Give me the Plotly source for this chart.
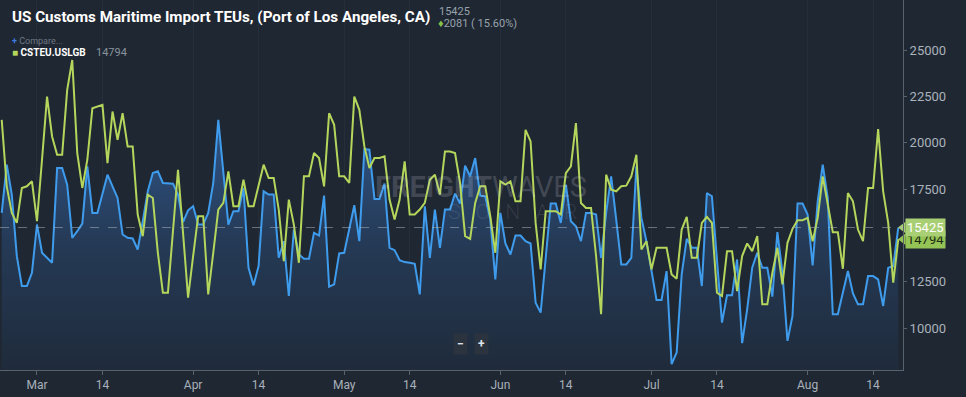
import pandas as pd
import plotly.graph_objects as go

# ---------------- data ----------------
start_date = "2019-02-22"
n_days = 179

# Port of Los Angeles (main series, blue area)
la_teus = [
    16214, 18814, 17201, 13883, 12270, 12270, 12987, 15587, 14063, 13794,
    13525, 18635, 18635, 17738, 14870, 15228, 15641, 18725, 16214, 16214,
    17201, 18276, 17649, 17021, 15049, 14870, 14834, 14242, 15766, 17380,
    18366, 18456, 17828, 17828, 17792, 17201, 15712, 16358, 16573, 15587,
    15587, 16214, 17828, 21235, 18545, 15587, 16304, 16304, 17559, 13256,
    12306, 13346, 17380, 17201, 17201, 13794, 14690, 11732, 15318, 13973,
    13740, 13740, 15139, 14995, 17147, 12234, 12359, 14027, 14063, 15408,
    16627, 14690, 19657, 19621, 16967, 16967, 17792, 14332, 14206, 13668,
    13561, 13525, 13471, 11822, 16573, 13794, 16394, 14332, 16394, 16394,
    17254, 16716, 18760, 18187, 19173, 17147, 17111, 15856, 12628, 16214,
    14565, 13973, 14995, 14995, 14690, 14565, 11373, 10835, 13883, 16716,
    16716, 15676, 17738, 15766, 15497, 14690, 16214, 16214, 16125, 13794,
    16214, 18187, 15856, 13435, 13435, 13794, 18725, 15945, 14690, 12987,
    11517, 11517, 13077, 8056, 8684, 12897, 14816, 14332, 14332, 12270,
    17290, 17111, 13615, 10297, 11768, 11768, 13704, 9186, 11015, 13256,
    14063, 13256, 13256, 11696, 15174, 12987, 9311, 10656, 16716, 16716,
    16125, 13381, 16842, 18814, 17021, 10746, 10746, 11911, 13077, 11875,
    11284, 11284, 12808, 12808, 12628, 11194, 13256, 13344, 15425,
]

# Port of Long Beach (compare series CSTEU.USLGB, green line)
lgb_teus = [
    21235, 17649, 16214, 15676, 17559, 17649, 17918, 15766, 19083, 22490,
    20338, 19352, 19352, 22848, 24462, 19442, 17559, 19083, 21862, 21952,
    22042, 18904, 21683, 20159, 21593, 19800, 19800, 16125, 14959, 17201,
    17021, 14063, 11911, 11911, 15228, 18545, 15139, 11642, 13883, 16035,
    16035, 11822, 14063, 16394, 16752, 18456, 16573, 16573, 18007, 16573,
    16573, 17649, 18814, 18097, 18097, 16394, 13615, 16932, 15587, 13525,
    18187, 18187, 19442, 19173, 17649, 21593, 20966, 18187, 18187, 17828,
    22490, 21773, 19800, 18635, 19173, 19173, 19262, 16932, 15856, 16932,
    18994, 16125, 16125, 16394, 16752, 18007, 18276, 17201, 19531, 19531,
    19442, 17828, 14959, 14816, 16752, 17649, 17649, 16035, 14063, 17918,
    17738, 17918, 16842, 16842, 20697, 20069, 15676, 13166, 16304, 16304,
    16304, 16125, 18366, 18725, 21055, 16752, 16483, 16483, 13883, 10746,
    18276, 17469, 17380, 17649, 17685, 18187, 19352, 14242, 14690, 13166,
    14332, 14332, 14332, 12897, 12664, 15318, 15999, 13794, 13794, 15676,
    15999, 15676, 11911, 11732, 14152, 14152, 12001, 13883, 14565, 14152,
    14959, 11284, 11284, 12987, 14332, 12359, 14601, 15354, 15820, 15820,
    15945, 14690, 15945, 18187, 16573, 15174, 15174, 13202, 17290, 16842,
    15318, 14690, 17559, 17559, 20733, 17380, 15676, 12449, 14794,
]

x_tick_dates = ["2019-03-01", "2019-03-14", "2019-04-01", "2019-04-14",
                "2019-05-01", "2019-05-14", "2019-06-01", "2019-06-14",
                "2019-07-01", "2019-07-14", "2019-08-01", "2019-08-14"]
x_tick_labels = ["Mar", "14", "Apr", "14", "May", "14",
                 "Jun", "14", "Jul", "14", "Aug", "14"]
y_tick_vals = [10000, 12500, 17500, 20000, 22500, 25000]

title_text = "US Customs Maritime Import TEUs, (Port of Los Angeles, CA)"
change_abs = 2081
change_pct = 15.60
compare_ticker = "CSTEU.USLGB"

dates = pd.date_range(start_date, periods=n_days, freq="D")

# ---------------- style ----------------
BG = "#1f2732"
BLUE = "#3f9ced"
GREEN = "#b4d65c"
AXIS = "#58626d"
TICKFONT = dict(family="Roboto", size=12, color="#a9b1ba")

PLOT_W, PLOT_H = 903, 370


def px(x):
    return x / PLOT_W


def py(y):
    return 1 - y / PLOT_H


fig = go.Figure()

fig.add_trace(go.Scatter(
    x=dates, y=la_teus, mode="lines",
    line=dict(color=BLUE, width=2),
    fill="tozeroy",
    fillgradient=dict(type="vertical",
                      colorscale=[[0, "#1f2b3b"], [0.5, "#253a56"], [1, "#30568a"]],
                      start=7740, stop=21500),
    hoverinfo="skip", showlegend=False,
))
fig.add_trace(go.Scatter(
    x=dates, y=lgb_teus, mode="lines",
    line=dict(color=GREEN, width=2),
    hoverinfo="skip", showlegend=False,
))

last_la = la_teus[-1]
last_lgb = lgb_teus[-1]
x_end = pd.Timestamp("2019-08-19 22:30")

# callout pointers for the last-value labels
fig.add_trace(go.Scatter(
    x=[x_end, x_end], y=[last_lgb, last_la], mode="markers",
    marker=dict(symbol="triangle-left", size=10, color=["#95c456", "#a9cf74"]),
    cliponaxis=False, hoverinfo="skip", showlegend=False,
))

# dashed last-value line
fig.add_shape(type="line", xref="paper", x0=0, x1=1, yref="y", y0=last_la, y1=last_la,
              line=dict(color="rgba(170,178,188,0.55)", width=1, dash="dash"))

ann = []
# title and header texts
ann.append(dict(x=px(10), y=py(17), xref="paper", yref="paper", xanchor="left", yanchor="middle",
                text=title_text, showarrow=False,
                font=dict(family="Roboto", size=15.2, weight=700, color="#ffffff")))
ann.append(dict(x=px(437), y=py(11), xref="paper", yref="paper", xanchor="left", yanchor="middle",
                text=str(last_la), showarrow=False,
                font=dict(family="Roboto", size=11, color="#98a2ac")))
ann.append(dict(x=px(436), y=py(23), xref="paper", yref="paper", xanchor="left", yanchor="middle",
                text="<span style='color:#86c24a'>♦</span>%d ( %.2f%%)" % (change_abs, change_pct),
                showarrow=False, font=dict(family="Roboto", size=11, color="#98a2ac")))
# legend rows
ann.append(dict(x=px(10), y=py(41), xref="paper", yref="paper", xanchor="left", yanchor="middle",
                text="<span style='color:#3b7ee0'><b>+</b></span> <span style='color:#6e7985'>Compare...</span>",
                showarrow=False, font=dict(family="Roboto", size=9, color="#6e7985")))
ann.append(dict(x=px(10), y=py(52), xref="paper", yref="paper", xanchor="left", yanchor="middle",
                text="<span style='color:%s'>■</span> %s" % (GREEN, compare_ticker),
                showarrow=False, font=dict(family="Roboto", size=10, weight=700, color="#ffffff")))
ann.append(dict(x=px(94), y=py(52), xref="paper", yref="paper", xanchor="left", yanchor="middle",
                text=str(last_lgb), showarrow=False,
                font=dict(family="Roboto", size=11, color="#88929c")))
# watermark
ann.append(dict(x=px(481), y=py(187), xref="paper", yref="paper", xanchor="center", yanchor="middle",
                text="<b>FREIGHT</b>WAVES", showarrow=False,
                font=dict(family="Roboto", size=29, color="rgba(215,220,226,0.20)")))
ann.append(dict(x=px(512), y=py(212), xref="paper", yref="paper", xanchor="center", yanchor="middle",
                text="S   O   N   A   R", showarrow=False,
                font=dict(family="Roboto", size=21, weight=300, color="rgba(215,220,226,0.12)")))
# zoom buttons
for xx, sym in [(460, "−"), (481, "+")]:
    ann.append(dict(x=px(xx), y=py(344), xref="paper", yref="paper", xanchor="center", yanchor="middle",
                    text="<b>" + sym + "</b>", showarrow=False, bgcolor="#2a333e",
                    borderpad=3, font=dict(family="Roboto", size=12, color="#dfe4ea")))
# last-value labels
ann.append(dict(x=1, y=last_lgb, xref="paper", yref="y", xanchor="left", yanchor="middle",
                xshift=2, text=str(last_lgb), showarrow=False, bgcolor="#95c456",
                borderpad=1, font=dict(family="Roboto", size=13, color="#1c2a12")))
ann.append(dict(x=1, y=last_la, xref="paper", yref="y", xanchor="left", yanchor="middle",
                xshift=2, text=str(last_la), showarrow=False, bgcolor="#a9cf74",
                borderpad=1, font=dict(family="Roboto", size=13, color="#ffffff")))

fig.update_layout(
    width=966, height=397,
    margin=dict(l=0, r=966 - PLOT_W, t=0, b=397 - PLOT_H),
    paper_bgcolor=BG, plot_bgcolor=BG,
    annotations=ann,
    xaxis=dict(
        range=[pd.Timestamp("2019-02-21 15:50"), x_end],
        tickvals=pd.to_datetime(x_tick_dates), ticktext=x_tick_labels,
        showgrid=True, gridcolor="rgba(255,255,255,0.035)", gridwidth=1,
        showline=True, linecolor=AXIS, linewidth=1,
        ticks="outside", ticklen=4, tickcolor=AXIS,
        tickfont=TICKFONT, zeroline=False, fixedrange=True,
    ),
    yaxis=dict(
        side="right", range=[7740, 27700],
        tickvals=y_tick_vals, ticktext=[str(v) for v in y_tick_vals],
        showgrid=False, zeroline=False,
        showline=True, linecolor=AXIS, linewidth=1,
        ticks="outside", ticklen=3, tickcolor=AXIS,
        tickfont=dict(family="Roboto", size=13, color="#aab2bb"),
        fixedrange=True,
    ),
)

fig.write_html("out.html", config={"displayModeBar": False},
               post_script="document.body.style.margin='0';document.body.style.background='%s';" % BG)
